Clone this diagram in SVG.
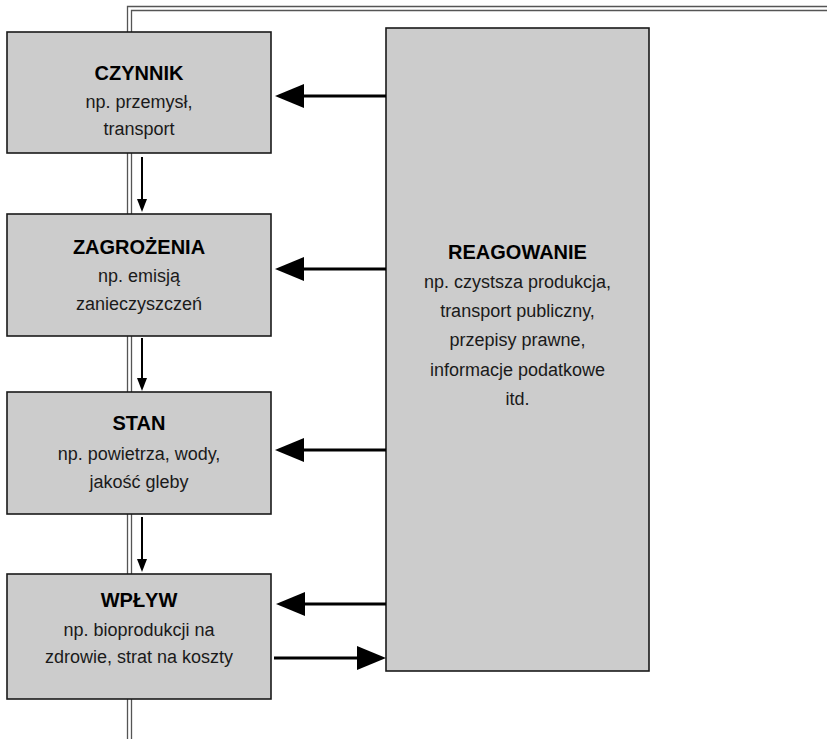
<svg xmlns="http://www.w3.org/2000/svg" width="827" height="739" viewBox="0 0 827 739">
<style>
.frame{fill:none;stroke:#555;stroke-width:1.3}
.box{fill:#cccccc;stroke:#1a1a1a;stroke-width:1.6}
.t{font-family:"Liberation Sans",Arial,sans-serif;font-size:18px;fill:#1a1a1a;text-anchor:middle}
.b{font-weight:bold;font-size:20px;fill:#000}
.ln{stroke:#000;stroke-width:3;fill:none}
.dn{stroke:#000;stroke-width:2;fill:none}
.hd{fill:#000}
</style>
<rect width="827" height="739" fill="#fff"/>
<g id="frame">
<path class="frame" d="M127.5 739 V6.5 H827"/>
<path class="frame" d="M131.5 739 V10.5 H827"/>
</g>
<g id="czynnik">
<rect class="box" x="7" y="32" width="264" height="121"/>
<text class="t b" x="139" y="80">CZYNNIK</text>
<text class="t" x="139" y="108">np. przemysł,</text>
<text class="t" x="139" y="135">transport</text>
</g>
<g id="zagrozenia">
<rect class="box" x="7" y="214" width="264" height="122"/>
<text class="t b" x="139" y="254">ZAGROŻENIA</text>
<text class="t" x="139" y="282">np. emisją</text>
<text class="t" x="139" y="310">zanieczyszczeń</text>
</g>
<g id="stan">
<rect class="box" x="7" y="392" width="264" height="122"/>
<text class="t b" x="139" y="430">STAN</text>
<text class="t" x="139" y="460">np. powietrza, wody,</text>
<text class="t" x="139" y="488">jakość gleby</text>
</g>
<g id="wplyw">
<rect class="box" x="7" y="574" width="264" height="125"/>
<text class="t b" x="139" y="607">WPŁYW</text>
<text class="t" x="139" y="636">np. bioprodukcji na</text>
<text class="t" x="139" y="663">zdrowie, strat na koszty</text>
</g>
<g id="reagowanie">
<rect class="box" x="386" y="28" width="263" height="643"/>
<text class="t b" x="517.5" y="259">REAGOWANIE</text>
<text class="t" x="517.5" y="288">np. czystsza produkcja,</text>
<text class="t" x="517.5" y="317">transport publiczny,</text>
<text class="t" x="517.5" y="346">przepisy prawne,</text>
<text class="t" x="517.5" y="376">informacje podatkowe</text>
<text class="t" x="517.5" y="405">itd.</text>
</g>
<g id="connectors">
<line class="ln" x1="386" y1="96" x2="300" y2="96"/>
<polygon class="hd" points="275,96 304,84 304,108"/>
<line class="ln" x1="386" y1="269" x2="300" y2="269"/>
<polygon class="hd" points="275,269 304,257 304,281"/>
<line class="ln" x1="386" y1="450" x2="300" y2="450"/>
<polygon class="hd" points="275,450 304,438 304,462"/>
<line class="ln" x1="386" y1="604" x2="300" y2="604"/>
<polygon class="hd" points="276,604 305,592 305,616"/>
<line class="ln" x1="274" y1="658" x2="360" y2="658"/>
<polygon class="hd" points="386,658 357,646 357,670"/>
<line class="dn" x1="142" y1="157" x2="142" y2="201"/>
<polygon class="hd" points="142,212 137,199 147,199"/>
<line class="dn" x1="142" y1="338" x2="142" y2="380"/>
<polygon class="hd" points="142,391 137,378 147,378"/>
<line class="dn" x1="142" y1="517" x2="142" y2="561"/>
<polygon class="hd" points="142,572 137,559 147,559"/>
</g>
</svg>
